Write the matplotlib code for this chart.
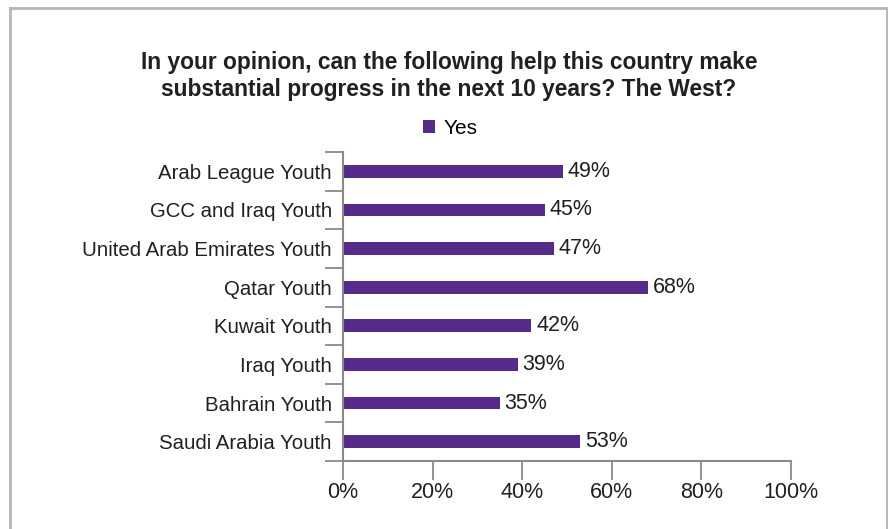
import matplotlib.pyplot as plt
from matplotlib.lines import Line2D
import numpy as np

plt.rcParams['font.family'] = ['Liberation Sans', 'DejaVu Sans']

# dados
categorias = ["Arab League Youth", "GCC and Iraq Youth", "United Arab Emirates Youth",
              "Qatar Youth", "Kuwait Youth", "Iraq Youth", "Bahrain Youth",
              "Saudi Arabia Youth"]
valores = [49, 45, 47, 68, 42, 39, 35, 53]
xticks = [0, 20, 40, 60, 80, 100]
titulo = ("In your opinion, can the following help this country make\n"
          "substantial progress in the next 10 years? The West?")
serie = "Yes"

roxo = "#562a88"
cinza = "#8a8a8a"
texto = "#231f20"

fig = plt.figure(figsize=(8.88, 5.29), dpi=100)
ax = fig.add_axes([343 / 888, 1 - 461 / 529, 448 / 888, 309 / 529])

y = np.arange(len(categorias))
barras = ax.barh(y, valores, height=0.33, color=roxo, label=serie)
ax.set_ylim(len(categorias) - 0.5, -0.5)
ax.set_xlim(0, 100)

for yi, v in zip(y, valores):
    ax.text(v + 1.1, yi, f"{v}%", va="center", ha="left", fontsize=15.5, color=texto)

ax.set_yticks(y)
ax.set_yticklabels(categorias, fontsize=14.7, color=texto)
ax.set_yticks(np.arange(len(categorias) + 1) - 0.5, minor=True)
ax.tick_params(axis="y", which="major", length=0, pad=8)
ax.tick_params(axis="y", which="minor", length=13, width=1.3, color=cinza)

ax.set_xticks(xticks)
ax.set_xticklabels([f"{t}%" for t in xticks], fontsize=15.5, color=texto)
ax.tick_params(axis="x", length=14, width=1.3, color=cinza, pad=1)

for lado in ["top", "right"]:
    ax.spines[lado].set_visible(False)
for lado in ["left", "bottom"]:
    ax.spines[lado].set_color(cinza)
    ax.spines[lado].set_linewidth(1.5)

fig.text(449 / 888, 1 - 76 / 529, titulo, ha="center", va="center",
         fontsize=16.4, fontweight="bold", color=texto, linespacing=1.18)

fig.legend(handles=[barras], loc="center", bbox_to_anchor=(450 / 888, 1 - 128 / 529),
           frameon=False, fontsize=15, handlelength=0.6, handleheight=0.6,
           handletextpad=0.4)

# moldura
for xs, ys in [([10, 887], [8, 8]), ([10, 10], [8, 529]), ([887, 887], [8, 529])]:
    fig.add_artist(Line2D([v / 888 for v in xs], [1 - v / 529 for v in ys],
                          color="#b5b5b5", linewidth=2, transform=fig.transFigure))

fig.savefig("out.png", dpi=100, facecolor="white")
